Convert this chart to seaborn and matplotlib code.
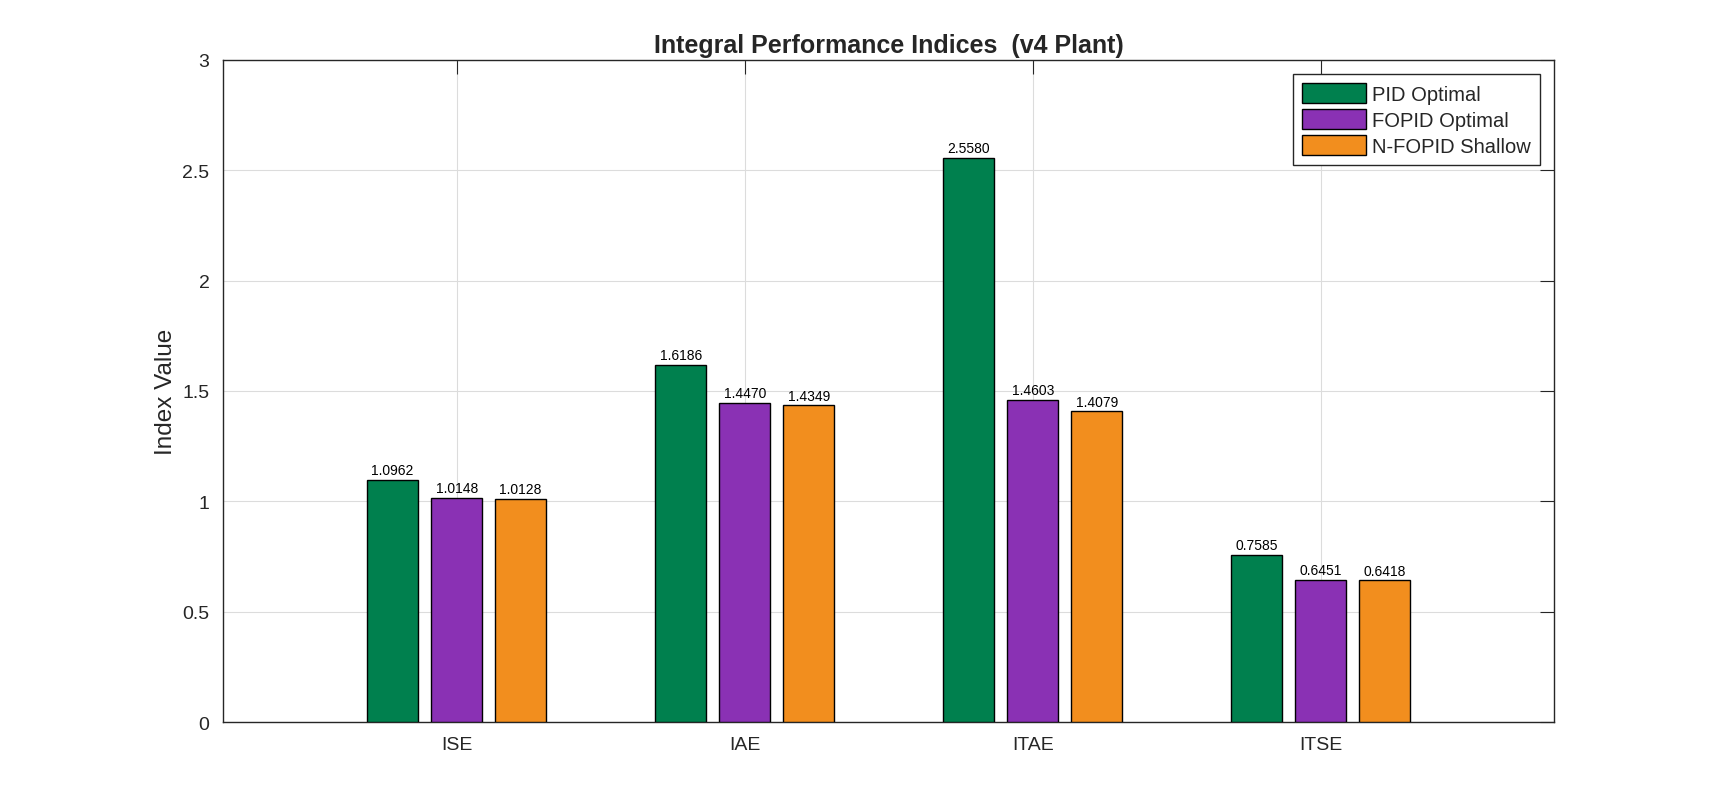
import matplotlib
matplotlib.use('Agg')
import matplotlib.pyplot as plt
import seaborn as sns
import pandas as pd

# index values
indices = ['ISE', 'IAE', 'ITAE', 'ITSE']
controllers = ['PID Optimal', 'FOPID Optimal', 'N-FOPID Shallow']
pid_vals = [1.0962, 1.6186, 2.5580, 0.7585]
fopid_vals = [1.0148, 1.4470, 1.4603, 0.6451]
nfopid_vals = [1.0128, 1.4349, 1.4079, 0.6418]
colors = ['#00804E', '#8A31B4', '#F28E1E']
yticks = [0, 0.5, 1, 1.5, 2, 2.5, 3]
ytick_labels = ['0', '0.5', '1', '1.5', '2', '2.5', '3']

df = pd.DataFrame({
    'index': indices * 3,
    'controller': [c for c in controllers for _ in indices],
    'value': pid_vals + fopid_vals + nfopid_vals,
})

sns.set_style('white')
plt.rcParams['font.family'] = ['Liberation Sans', 'DejaVu Sans']

fig = plt.figure(figsize=(17.19, 8.12), dpi=100)
ax = fig.add_axes([0.1299, 0.1096, 0.7742, 0.8153])

sns.barplot(data=df, x='index', y='value', hue='controller', order=indices,
            hue_order=controllers, palette=colors, width=0.667, gap=0.2,
            edgecolor='black', linewidth=1, saturation=1, ax=ax, zorder=3)

for cont in ax.containers:
    ax.bar_label(cont, fmt='%.4f', fontsize=10, padding=2, color='black')

ax.set_xlim(-0.81, 3.81)
ax.set_ylim(0, 3)
ax.set_yticks(yticks)
ax.set_yticklabels(ytick_labels)
ax.grid(True, color='#dcdcdc', linewidth=0.8, zorder=0)
ax.set_axisbelow(True)
ax.tick_params(direction='in', length=10, width=0.8, colors='#262626',
               labelsize=14, top=True, right=True, pad=10)
for s in ax.spines.values():
    s.set_color('#262626')
    s.set_linewidth(1)

ax.set_xlabel('')
ax.set_ylabel('Index Value', fontsize=17.5, color='#262626', labelpad=3.5)
ax.set_title('Integral Performance Indices  (v4 Plant)', fontsize=18,
             fontweight='bold', pad=6)

leg = ax.legend(loc='upper right', fontsize=14.5, frameon=True, fancybox=False,
                edgecolor='#262626', framealpha=1, borderaxespad=0.7,
                handlelength=3.2, handleheight=1.15, handletextpad=0.3,
                labelspacing=0.25, borderpad=0.45)
leg.get_frame().set_linewidth(1)

fig.savefig('out.png', dpi=100, facecolor='white')
